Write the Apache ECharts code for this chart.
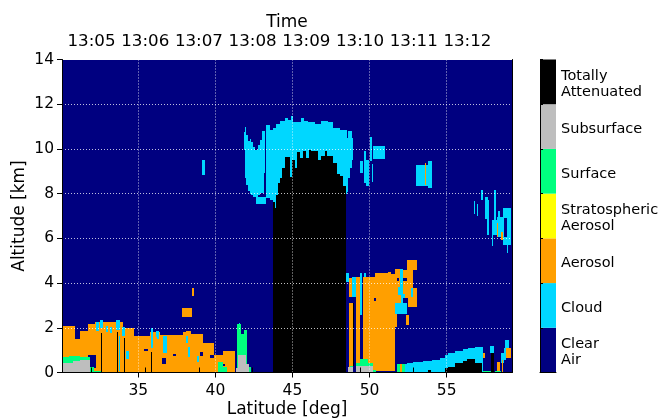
<!DOCTYPE html>
<html><head><meta charset="utf-8">
<style>html,body{margin:0;padding:0;background:#fff}#c{width:659px;height:419px}</style>
<script src="https://cdn.jsdelivr.net/npm/echarts@6/dist/echarts.min.js"></script>
</head><body><div id="c"></div>
<script>
// Every cell is [latStart, latEnd, altBottom, altTop] in degrees / km.
const latRange = [30.05, 59.24];
const altRange = [0, 14];
const latTicks = [35, 40, 45, 50, 55];
const timeRange = [4.45, 12.83];
const timeMinutes = [5, 6, 7, 8, 9, 10, 11, 12];
const timeLabels = ['13:05','13:06','13:07','13:08','13:09','13:10','13:11','13:12'];
const classNames = ['Clear\nAir','Cloud','Aerosol','Stratospheric\nAerosol','Surface','Subsurface','Totally\nAttenuated'];
const classColors = ['#000080','#00d7ff','#ff9f00','#ffff00','#00ff7f','#bebebe','#000000'];

const clearBackground = [[30.05,59.24,0,14]];
const aerosolCells = [
 [30.05,30.89,0,2.08],[30.89,31.23,0,1.5],[31.23,31.73,0,1.85],[31.73,32.16,0,2.15],[32.16,34.0,0,2.25],
 [34.0,34.7,0,2.0],[34.7,35.73,0,1.64],[35.73,36.38,0,1.8],[36.38,37.9,0,1.67],[37.9,38.12,0,1.79],
 [38.12,38.4,0,1.85],[38.4,39.2,0,1.74],[39.2,39.91,0,1.3],[39.91,40.5,0,0.8],[40.5,41.3,0,0.95],
 [37.81,38.46,2.5,2.88],[38.46,38.63,3.41,3.79],
 [48.68,48.94,0.26,3.09],[48.68,48.89,3.39,4.24],[49.11,49.41,0.3,4.29],[49.59,50.34,0.1,4.29],
 [50.34,51.21,0.05,4.44],[51.21,51.42,0.05,4.51],[51.42,51.64,0.05,4.39],[51.64,51.79,2.05,2.6],
 [51.64,52.07,3.1,4.63],[52.07,52.18,3.1,4.63],[52.18,52.79,3.32,4.58],[52.4,53.05,4.58,5.03],
 [52.5,53.05,2.95,3.76],[52.36,52.57,2.12,2.57]
];
const cloudCells = [
 [32.23,32.44,1.85,2.25],[32.49,32.7,2.0,2.35],[32.92,33.05,1.8,2.1],[33.14,33.27,1.75,2.05],[33.53,33.83,1.9,2.35],
 [33.74,33.83,0.05,1.65],[33.96,34.11,1.65,2.05],[34.22,34.39,0.6,0.95],[35.84,35.93,1.1,2.0],[36.2,36.32,1.5,1.85],
 [36.17,36.28,1.6,1.85],[36.6,36.86,0.85,1.64],[38.12,38.22,1.34,1.64],[38.22,38.35,0.7,1.15],[38.83,38.92,0.45,0.75],
 [41.51,41.6,1.97,2.2],[39.15,39.33,8.83,9.5],
 [41.84,41.9,9.96,10.77],[41.9,42.01,8.69,11.0],[42.01,42.12,8.39,10.63],[42.12,42.23,8.12,10.36],[42.23,42.34,7.99,10.45],
 [42.34,42.45,7.94,10.33],[42.45,42.6,7.87,10.1],[42.6,42.77,7.87,9.96],[42.77,42.92,7.94,10.18],[42.92,43.03,8.02,10.4],
 [43.03,43.14,8.02,10.8],[43.14,43.2,8.91,10.8],[42.66,43.31,7.53,7.87],
 [43.31,43.53,7.79,11.07],[43.53,43.74,7.72,10.85],[43.74,43.85,7.57,10.92],[43.85,43.96,7.35,10.92],[43.96,44.18,7.4,11.1],
 [44.18,44.5,7.5,11.25],[44.5,44.72,8,11.37],[44.72,44.93,8,11.3],[44.93,45.04,8,11.48],[45.04,45.58,8,11.22],
 [45.58,45.74,8,11.37],[45.74,46.02,8,11.25],[46.02,46.45,8,11.19],[46.45,46.88,8,11.1],[46.88,47.32,8,11.25],
 [47.32,47.64,8,11.22],[47.64,48.07,8,10.92],[48.07,48.51,8,10.85],[48.51,48.61,8.09,10.48],[48.61,48.72,8.69,10.8],
 [48.72,48.83,9.14,10.8],[48.83,48.9,9.5,10.5],
 [49.37,49.59,8.94,9.46],[49.65,49.78,8.46,9.91],[49.78,49.96,8.35,9.5],[50.02,50.15,9.48,10.55],[50.13,50.21,8.51,9.33],[50.24,50.99,9.54,10.13],
 [53.0,53.81,8.36,9.28],[53.81,54.03,8.24,9.46],[56.78,56.86,7.08,7.67],[56.97,57.06,7.0,7.54],[57.23,57.34,7.72,8.17],
 [57.49,57.71,6.86,7.87],[57.64,57.77,6.16,7.72],[57.92,57.99,5.66,6.83],[57.92,58.36,6.16,6.83],[58.07,58.18,6.83,8.17],
 [58.29,58.72,6.08,6.97],[58.36,58.46,6.97,7.23],[58.64,59.16,5.71,7.35],[58.9,59.0,5.33,5.71],
 [48.46,48.68,4.03,4.44],[48.89,49.11,3.39,4.29],[49.37,49.54,2.57,4.44],[49.63,49.8,4.29,4.44],[52.0,52.18,3.6,4.63],
 [51.86,52.18,3.47,3.84],[52.07,52.29,3.1,3.5],[52.72,52.83,3.39,3.76],[51.64,52.4,2.6,3.1],
 [52.29,52.4,0,0.36],[52.4,52.84,0,0.41],[52.84,53.49,0,0.45],[53.49,54.03,0,0.53],[54.03,54.57,0,0.56],[54.57,54.89,0,0.63],
 [54.89,55.11,0,0.78],[55.11,55.54,0,0.89],[55.54,56.08,0,0.98],[56.08,56.41,0,1.04],[56.41,56.84,0,1.08],[56.84,57.38,0,1.15],
 [57.81,58.1,0.86,1.2],[58.51,58.72,0.41,0.86],[58.72,58.85,0.56,1.08],[58.79,59.07,1.08,1.45]
];
const clearCells = [
 [31.73,32.27,0.18,0.8],[35.35,35.6,0.97,1.03],[36.54,36.8,0.4,0.65],[37.25,37.42,0.75,0.82],[38.98,39.22,0.75,0.9],
 [39.63,39.89,0.63,0.8],[40.5,40.65,0.3,0.4],[50.3,50.41,3.21,3.35],[51.79,51.92,4.09,4.21],[52.18,52.4,4.09,4.21],
 [52.18,52.5,3.1,3.32],[58.72,58.94,6.08,6.9]
];
const aerosolOverlayCells = [
 [53.6,53.66,8.39,9.39],[58.27,58.33,6.08,6.67],[58.53,58.64,5.93,6.3],[57.38,57.51,0.63,0.86],[58.25,58.46,0.08,0.48],
 [58.57,58.68,0.03,0.56],[58.85,59.16,0.66,1.08],[51.97,52.12,0,0.36]
];
const surfaceCells = [
 [30.06,30.5,0,0.7],[30.5,31.2,0,0.76],[31.2,31.85,0,0.7],[31.85,32.15,0,0.25],[32.05,32.6,0,0.08],
 [40.17,40.5,0,0.48],[40.5,40.78,0,0.25],[41.43,41.64,0,2.19],[41.64,41.86,0,1.74],[41.86,42.08,0,1.89],[42.08,42.34,0,0.25],
 [48.7,48.94,0,0.3],[49.11,49.37,0,0.41],[49.37,49.91,0,0.59],[49.91,50.24,0,0.41],[50.24,50.45,0,0.12],
 [51.75,51.97,0,0.36],[52.12,52.29,0,0.36],[57.38,57.86,0,0.05],[58.15,58.5,0,0.05]
];
const subsurfaceCells = [
 [30.1,30.75,0.03,0.42],[30.75,31.2,0.03,0.5],[31.2,31.85,0.03,0.55],
 [41.36,41.47,0,0.18],[41.47,41.73,0,0.8],[41.73,42.01,0,0.77],[42.01,42.16,0,0.4],
 [48.61,48.94,0,0.26],[49.1,50.2,0,0.3]
];
const attenuatedCells = [
 [32.58,32.64,0,1.75],[33.65,33.7,0,1.8],[34.05,34.11,0,1.55],[35.85,35.91,0,0.9],[48.94,48.98,0.3,3.1],
 [43.72,43.85,0,7.62],[43.85,43.96,0,7.35],[43.96,44.09,0,7.94],[44.09,44.22,0,8.46],[44.22,44.33,0,8.69],[44.33,44.5,0,9.14],
 [44.5,44.83,0,9.66],[44.83,44.98,0,8.76],[44.98,45.15,0,9.51],[45.15,45.3,0,9.14],[45.3,45.48,0,9.88],[45.48,45.7,0,9.58],
 [45.7,45.85,0,9.91],[45.85,46.06,0,9.58],[46.06,46.19,0,9.96],[46.19,46.67,0,9.91],[46.67,46.88,0,9.51],[46.88,47.1,0,9.7],
 [47.1,47.21,0,9.91],[47.21,47.64,0,9.7],[47.64,47.86,0,9.36],[47.86,48.07,0,8.87],[48.07,48.29,0,8.8],[48.29,48.46,0,8.32],
 [53.81,53.98,0,0.1],[54.89,55.11,0,0.18],[55.11,55.54,0,0.23],[55.54,56.08,0,0.41],[56.08,56.3,0,0.53],[56.3,56.84,0,0.59],
 [56.84,57.27,0,0.41],[57.88,58.07,0,0.86]
];

function cellSeries(cells, colorIdx, order) {
  return {
    type: 'custom', xAxisIndex: 0, yAxisIndex: 0, z: 2 + order * 0.01, silent: true, clip: true,
    encode: { x: [0, 1], y: [2, 3] },
    data: cells,
    renderItem: function (params, api) {
      const a = api.coord([api.value(0), api.value(2)]);
      const b = api.coord([api.value(1), api.value(3)]);
      const x0 = Math.round(a[0]), x1 = Math.max(Math.round(b[0]), x0 + 1);
      const yB = Math.round(a[1]), yT = Math.min(Math.round(b[1]), yB - 1);
      return { type: 'rect', shape: { x: x0, y: yT, width: x1 - x0, height: yB - yT },
        style: { fill: classColors[colorIdx] } };
    }
  };
}
const FONT = 'DejaVu Sans';
const spine = { show: true, lineStyle: { color: '#000', width: 1 } };
const ticks = { show: true, length: 5, lineStyle: { color: '#000', width: 1 } };
const grid = { show: true, lineStyle: { color: 'rgba(255,255,255,0.75)', width: 1, type: [1, 2] } };

const chart = echarts.init(document.getElementById('c'), null, { renderer: 'canvas' });
chart.setOption({
  animation: false,
  backgroundColor: '#fff',
  textStyle: { fontFamily: FONT },
  grid: [
    { left: 62, top: 59.5, width: 450, height: 313, outerBoundsMode: 'none' },
    { left: 540, top: 59.5, width: 16, height: 313, outerBoundsMode: 'none' },
    { left: 540, top: 62, width: 16, height: 313, outerBoundsMode: 'none' }
  ],
  xAxis: [
    { type: 'value', gridIndex: 0, position: 'bottom', min: latRange[0], max: latRange[1], z: 10,
      name: 'Latitude [deg]', nameLocation: 'middle', nameGap: 29, nameMoveOverlap: false,
      nameTextStyle: { fontSize: 17, color: '#000', fontFamily: FONT },
      axisLine: spine, axisTick: Object.assign({ customValues: latTicks }, ticks),
      axisLabel: { customValues: latTicks, fontSize: 15.5, color: '#000', fontFamily: FONT, margin: 10.5 },
      splitLine: Object.assign({ customValues: latTicks }, grid) },
    { type: 'value', gridIndex: 0, position: 'top', min: timeRange[0], max: timeRange[1], z: 10,
      name: 'Time', nameLocation: 'middle', nameGap: 28, nameMoveOverlap: false,
      nameTextStyle: { fontSize: 17, color: '#000', fontFamily: FONT },
      axisLine: spine, axisTick: Object.assign({ customValues: timeMinutes }, ticks),
      axisLabel: { customValues: timeMinutes, fontSize: 16.7, color: '#000', fontFamily: FONT, margin: 9,
        formatter: v => timeLabels[timeMinutes.indexOf(v)] },
      splitLine: { show: false } },
    { type: 'value', gridIndex: 1, min: 0, max: 1, z: 10,
      axisLine: spine, axisTick: { show: false }, axisLabel: { show: false }, splitLine: { show: false } },
    { type: 'value', gridIndex: 2, min: 0, max: 1, show: false }
  ],
  yAxis: [
    { type: 'value', gridIndex: 0, position: 'left', min: altRange[0], max: altRange[1], interval: 2, z: 10,
      name: 'Altitude [km]', nameLocation: 'middle', nameGap: 34, nameMoveOverlap: false,
      nameTextStyle: { fontSize: 17, color: '#000', fontFamily: FONT },
      axisLine: spine, axisTick: ticks,
      axisLabel: { fontSize: 15.5, color: '#000', fontFamily: FONT, margin: 8 },
      splitLine: grid },
    { type: 'value', gridIndex: 0, position: 'right', min: altRange[0], max: altRange[1], interval: 2, z: 10,
      axisLine: spine, axisTick: { show: false }, axisLabel: { show: false }, splitLine: { show: false } },
    { type: 'category', gridIndex: 1, position: 'right', z: 10, data: classNames,
      axisLine: spine, axisTick: { show: true, length: 3, lineStyle: { color: '#000' } },
      axisLabel: { show: false }, splitLine: { show: false } },
    { type: 'category', gridIndex: 2, position: 'right', z: 10, data: classNames,
      axisLine: { show: false }, axisTick: { show: false }, splitLine: { show: false },
      axisLabel: { fontSize: 14.5, lineHeight: 16, color: '#000', fontFamily: FONT, margin: 5, overflow: 'none' } }
  ],
  series: [
    cellSeries(clearBackground, 0, 0),
    cellSeries(aerosolCells, 2, 1),
    cellSeries(cloudCells, 1, 2),
    cellSeries(clearCells, 0, 3),
    cellSeries(aerosolOverlayCells, 2, 4),
    cellSeries(surfaceCells, 4, 5),
    cellSeries(subsurfaceCells, 5, 6),
    cellSeries(attenuatedCells, 6, 7),
    { type: 'bar', xAxisIndex: 2, yAxisIndex: 2, barWidth: '100%', silent: true,
      data: classColors.map(c => ({ value: 1, itemStyle: { color: c } })) }
  ]
});
</script></body></html>
